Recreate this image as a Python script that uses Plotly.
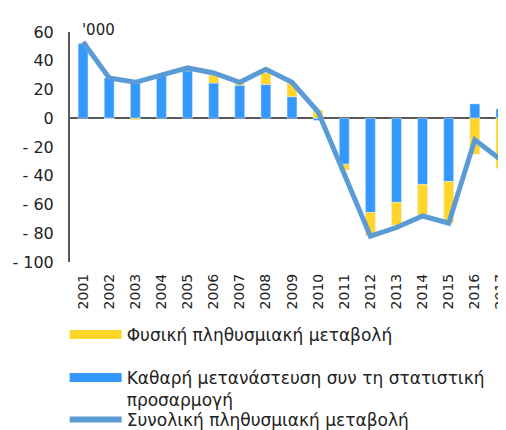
import plotly.graph_objects as go

years = [str(y) for y in range(2001, 2018)]
natural_change = [0.5, -0.3, -1.0, 0.5, 1.5, 5.5, 1.5, 8.0, 9.5, 5.5, -4.0, -16.0, -16.0, -21.0, -29.0, -25.0, -35.0]
net_migration = [52.0, 28.0, 25.5, 29.5, 33.0, 24.5, 23.0, 23.5, 15.0, -1.5, -32.0, -65.5, -58.5, -46.0, -44.0, 10.0, 6.5]
total_change = [53.0, 28.0, 25.0, 30.0, 35.0, 31.5, 25.0, 34.0, 25.0, 4.5, -38.0, -82.0, -76.0, -68.0, -73.0, -15.0, -29.0]

y_ticks = [-100, -80, -60, -40, -20, 0, 20, 40, 60]
y_labels = ["- 100", "- 80", "- 60", "- 40", "- 20", "0", "20", "40", "60"]

names = [
    "Φυσική πληθυσμιακή μεταβολή",
    "Καθαρή μετανάστευση συν τη στατιστική<br>προσαρμογή",
    "Συνολική πληθυσμιακή μεταβολή",
]

YELLOW = "#FFD629"
BLUE = "#3399FF"
LINE = "#5B9BD5"
FONT = "DejaVu Sans"

fig = go.Figure()
fig.add_trace(go.Bar(x=years, y=net_migration, marker_color=BLUE, width=0.38, showlegend=False))
fig.add_trace(go.Bar(x=years, y=natural_change, marker_color=YELLOW, width=0.38, showlegend=False))
fig.add_trace(go.Scatter(x=years, y=total_change, mode="lines", line=dict(color=LINE, width=5), showlegend=False))

# legend-only entries, drawn as wide strokes like the original
fig.add_trace(go.Scatter(x=years[:1], y=[None], mode="lines", line=dict(color=YELLOW, width=9), name=names[0], legend="legend"))
fig.add_trace(go.Scatter(x=years[:1], y=[None], mode="lines", line=dict(color=BLUE, width=9), name=names[1], legend="legend2"))
fig.add_trace(go.Scatter(x=years[:1], y=[None], mode="lines", line=dict(color=LINE, width=6), name=names[2], legend="legend3"))

leg = dict(xref="container", yref="container", x=0.112, xanchor="left", yanchor="middle", valign="top",
           itemwidth=52, font=dict(family=FONT, size=17, color="#222"), bgcolor="rgba(0,0,0,0)")

fig.update_layout(
    width=506,
    height=430,
    barmode="relative",
    paper_bgcolor="white",
    plot_bgcolor="white",
    margin=dict(l=62, r=0, t=24, b=176, autoexpand=False),
    font=dict(family=FONT, size=15, color="#222"),
    legend=dict(leg, y=1 - 327 / 430),
    legend2=dict(leg, y=1 - 381 / 430),
    legend3=dict(leg, y=1 - 412 / 430),
    annotations=[dict(text="'000", xref="paper", yref="paper", x=0.022, y=1, xanchor="left", yanchor="bottom",
                      yshift=-9, showarrow=False, font=dict(family=FONT, size=15, color="#222"))],
)
fig.update_xaxes(type="category", range=[-0.5, 16.5], tickangle=-90, showline=False, showgrid=False,
                 ticks="", ticklabelstandoff=8, tickfont=dict(family=FONT, size=14))
fig.update_yaxes(range=[-100, 60], tickvals=y_ticks, ticktext=y_labels, showgrid=False,
                 showline=True, linecolor="#595959", linewidth=2, zeroline=True, zerolinecolor="#595959",
                 zerolinewidth=2, ticks="", ticklabelstandoff=11, tickfont=dict(family=FONT, size=16))

fig.write_html("out.html")
